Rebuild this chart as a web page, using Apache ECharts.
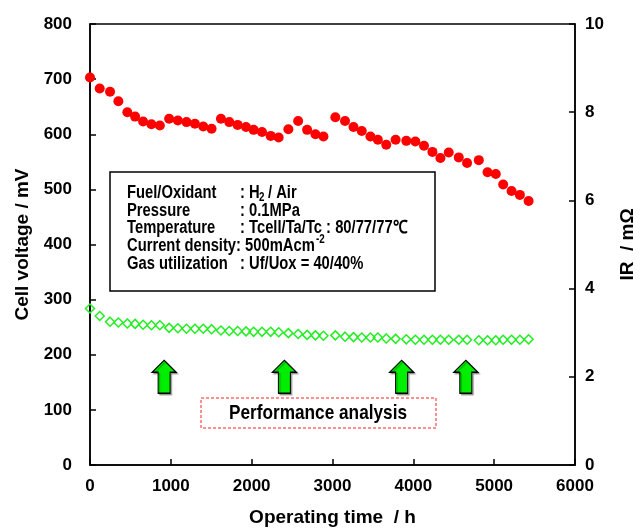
<!DOCTYPE html>
<html>
<head>
<meta charset="utf-8">
<script src="https://cdn.jsdelivr.net/npm/echarts@6/dist/echarts.min.js"></script>
<style>
  html, body { margin: 0; padding: 0; background: #fff; }
  #chart { width: 642px; height: 530px; }
</style>
</head>
<body>
<div id="chart"></div>
<script>
// Operating time of each measurement (h)
const timeH = [0, 120, 248, 351, 462, 558, 657, 760, 864, 979, 1087, 1194, 1298, 1401, 1504,
  1620, 1723, 1826, 1930, 2024, 2128, 2235, 2334, 2454, 2575, 2686, 2789, 2888, 3035, 3155,
  3260, 3362, 3469, 3561, 3665, 3781, 3913, 4025, 4132, 4236, 4335, 4438, 4562, 4665, 4810,
  4918, 5020, 5111, 5215, 5318, 5426];

// Cell voltage (mV)
const cellVoltage = [703, 683, 677, 660, 640, 632, 623, 618, 616, 628, 625, 622, 619, 614, 610,
  628, 622, 617, 613, 608, 604, 597, 594, 609, 624, 608, 600, 596, 631, 624,
  613, 606, 596, 590, 581, 590, 588, 587, 579, 568, 557, 567, 558, 548, 553,
  531, 528, 509, 497, 490, 479];

// Internal resistance (mOhm)
const irValues = [3.55, 3.38, 3.25, 3.23, 3.21, 3.20, 3.18, 3.17, 3.17, 3.11, 3.10, 3.09, 3.09, 3.09, 3.08,
  3.05, 3.04, 3.04, 3.03, 3.02, 3.02, 3.02, 3.01, 2.99, 2.97, 2.95, 2.94, 2.93, 2.94, 2.91,
  2.90, 2.89, 2.89, 2.89, 2.87, 2.86, 2.85, 2.84, 2.84, 2.84, 2.84, 2.84, 2.84, 2.84, 2.83,
  2.83, 2.83, 2.84, 2.84, 2.84, 2.85];

// Times at which performance analysis was carried out (h)
const analysisTimes = [917, 2405, 3855, 4649];
const arrowLevel = 160; // mV, vertical placement of the arrows

// Test conditions
const condLabels = ['Fuel/Oxidant', 'Pressure', 'Temperature', 'Current density', 'Gas utilization'];

const FONT = '"Liberation Sans", Arial, sans-serif';
const NARROW = 0.82; // horizontal squeeze for the condensed annotation text
const chart = echarts.init(document.getElementById('chart'));

// Condensed bold text element anchored at its top-left corner
const txt = (x, y, s, size) => ({
  type: 'text', x: x, y: y, scaleX: NARROW,
  style: { text: s, font: 'bold ' + size + 'px ' + FONT, fill: '#000', textVerticalAlign: 'top' }
});

const lineY = [184, 202, 219, 237, 255];
const boxGraphics = [
  { type: 'rect', shape: { x: 110, y: 172, width: 325, height: 119 },
    style: { fill: '#fff', stroke: '#000', lineWidth: 1.5 } }
];
condLabels.forEach((l, i) => boxGraphics.push(txt(127, lineY[i], l, 18)));
boxGraphics.push(
  txt(240, lineY[0], ': H', 18),
  txt(259, lineY[0] + 8, '2', 12),
  txt(268, lineY[0], '/ Air', 18),
  txt(240, lineY[1], ': 0.1MPa', 18),
  txt(240, lineY[2], ': Tcell/Ta/Tc : 80/77/77\u2103', 18),
  txt(236, lineY[3], ': 500mAcm', 18),
  txt(316, lineY[3] - 3, '-2', 12),
  txt(240, lineY[4], ': Uf/Uox = 40/40%', 18),
  { type: 'rect', shape: { x: 201, y: 398, width: 235, height: 30 },
    style: { fill: 'none', stroke: '#ff2020', lineWidth: 1, lineDash: [3, 2] } },
  { type: 'text', x: 318, y: 413, scaleX: NARROW,
    style: { text: 'Performance analysis', font: 'bold 21px ' + FONT, fill: '#000',
      textAlign: 'center', textVerticalAlign: 'middle' } }
);

const axisFont = { fontFamily: FONT, fontWeight: 'bold', fontSize: 17, color: '#000' };
const nameFont = { fontFamily: FONT, fontWeight: 'bold', fontSize: 19, color: '#000' };
const plain = v => String(v);

chart.setOption({
  animation: false,
  backgroundColor: '#fff',
  grid: { left: 90, right: 67, top: 24, bottom: 65, show: true, borderColor: '#000', borderWidth: 1.5,
    outerBoundsMode: 'none' },
  xAxis: {
    type: 'value', min: 0, max: 6000, interval: 1000,
    name: 'Operating time  / h', nameLocation: 'middle', nameGap: 43, nameTextStyle: nameFont,
    axisLine: { lineStyle: { color: '#000', width: 1.5 } },
    axisTick: { inside: true, length: 6, lineStyle: { color: '#000', width: 1.5 } },
    axisLabel: Object.assign({ margin: 13, formatter: plain }, axisFont),
    splitLine: { show: false }
  },
  yAxis: [{
    type: 'value', min: 0, max: 800, interval: 100,
    name: 'Cell voltage / mV', nameLocation: 'middle', nameGap: 58, nameRotate: 90, nameTextStyle: nameFont,
    axisLine: { show: true, lineStyle: { color: '#000', width: 1.5 } },
    axisTick: { show: true, inside: true, length: 6, lineStyle: { color: '#000', width: 1.5 } },
    axisLabel: Object.assign({ margin: 18, formatter: plain }, axisFont),
    splitLine: { show: false }
  }, {
    type: 'value', min: 0, max: 10, interval: 2, position: 'right',
    name: 'IR  / m\u03A9', nameLocation: 'middle', nameGap: 43, nameRotate: 90, nameTextStyle: nameFont,
    axisLine: { show: true, lineStyle: { color: '#000', width: 1.5 } },
    axisTick: { show: true, inside: true, length: 6, lineStyle: { color: '#000', width: 1.5 } },
    axisLabel: Object.assign({ margin: 10, formatter: plain }, axisFont),
    splitLine: { show: false }
  }],
  graphic: boxGraphics,
  series: [{
    name: 'Cell voltage', type: 'scatter', yAxisIndex: 0,
    data: timeH.map((t, i) => [t, cellVoltage[i]]),
    symbol: 'circle', symbolSize: 10,
    itemStyle: { color: '#ff0000', opacity: 1 }, z: 3
  }, {
    name: 'IR', type: 'scatter', yAxisIndex: 1,
    data: timeH.map((t, i) => [t, irValues[i]]),
    symbol: 'diamond', symbolSize: [9, 9],
    itemStyle: { color: 'rgba(255,255,255,0)', borderColor: '#22ee22', borderWidth: 1.5, opacity: 1 }, z: 2
  }, {
    name: 'Analysis', type: 'scatter', yAxisIndex: 0,
    data: analysisTimes.map(t => [t, arrowLevel]),
    symbol: 'path://M12,0 L24,12 L18,12 L18,33 L6,33 L6,12 L0,12 Z',
    symbolSize: [24, 33], symbolKeepAspect: false,
    itemStyle: { color: '#00ee00', borderColor: '#000', borderWidth: 1.2, opacity: 1,
      shadowColor: 'rgba(0,0,0,0.3)', shadowOffsetX: 1.5, shadowOffsetY: 1.5, shadowBlur: 1 }, z: 4
  }]
});
</script>
</body>
</html>
